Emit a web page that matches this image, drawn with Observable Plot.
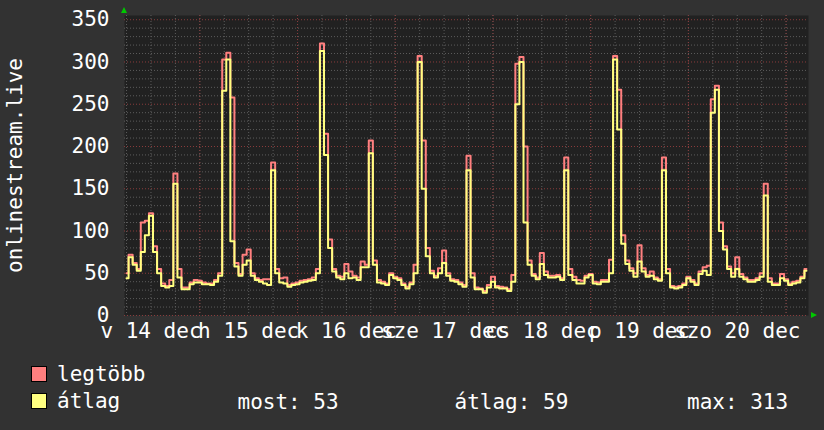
<!DOCTYPE html>
<html>
<head>
<meta charset="utf-8">
<script src="https://cdn.jsdelivr.net/npm/d3@7"></script>
<script src="https://cdn.jsdelivr.net/npm/@observablehq/plot@0.6"></script>
<style>
  html, body { margin: 0; padding: 0; background: #323232; }
  #wrap { position: relative; width: 824px; height: 430px; overflow: hidden; }
  #legend { position: absolute; left: 0; top: 350px; }
</style>
</head>
<body>
<div id="wrap"></div>
<script>
// ---- data (hourly samples, starting 14 Dec 05:30) ----
const seriesNames = ["legtöbb", "átlag"];
const seriesColors = ["#ff7f7f", "#ffff80"];
const maxValues = [
  50, 72, 62, 55, 110, 112, 121, 82, 55, 38, 35, 42, 168, 55, 33, 33, 39, 42, 41, 39, 38, 38, 42, 50,
  303, 311, 258, 62, 49, 72, 78, 50, 44, 42, 43, 43, 181, 55, 44, 45, 36, 38, 39, 41, 42, 43, 45, 55,
  322, 215, 90, 55, 47, 46, 61, 52, 47, 45, 64, 60, 207, 65, 42, 40, 38, 50, 46, 44, 38, 34, 39, 60,
  307, 207, 80, 53, 47, 56, 77, 50, 43, 42, 39, 36, 189, 50, 33, 32, 29, 36, 46, 35, 34, 33, 31, 48,
  298, 306, 200, 65, 49, 45, 74, 52, 47, 47, 48, 44, 187, 55, 46, 42, 41, 47, 49, 40, 39, 42, 42, 66,
  307, 267, 95, 65, 56, 50, 83, 56, 48, 52, 45, 43, 187, 55, 35, 34, 35, 38, 46, 42, 38, 52, 57, 59,
  256, 272, 110, 82, 58, 50, 69, 49, 45, 42, 42, 44, 50, 156, 44, 38, 38, 49, 43, 38, 40, 41, 46, 55
];
const avgValues = [
  44, 69, 60, 53, 75, 95, 118, 75, 50, 35, 33, 35, 156, 45, 31, 31, 37, 39, 39, 37, 37, 36, 40, 47,
  266, 303, 88, 58, 47, 60, 65, 47, 42, 40, 38, 36, 172, 50, 39, 38, 34, 36, 37, 39, 40, 41, 42, 50,
  313, 190, 80, 52, 45, 43, 50, 44, 45, 42, 57, 57, 192, 60, 39, 38, 36, 48, 44, 42, 36, 32, 37, 50,
  300, 150, 70, 50, 45, 50, 62, 47, 41, 40, 37, 34, 172, 45, 31, 31, 27, 33, 40, 33, 32, 32, 29, 40,
  250, 300, 110, 60, 47, 43, 61, 48, 45, 45, 46, 42, 172, 48, 42, 38, 38, 45, 48, 38, 37, 40, 40, 50,
  303, 220, 85, 61, 53, 46, 64, 52, 46, 47, 43, 41, 172, 50, 33, 32, 33, 36, 44, 40, 36, 49, 53, 48,
  240, 267, 100, 78, 55, 46, 55, 46, 43, 40, 40, 42, 46, 142, 40, 36, 36, 44, 41, 36, 38, 39, 44, 53
];
const yTicks = [0, 50, 100, 150, 200, 250, 300, 350];
const dayNumbers = [14, 15, 16, 17, 18, 19, 20];
const xTickLabels = ["v 14 dec", "h 15 dec", "k 16 dec", "sze 17 dec", "cs 18 dec", "p 19 dec", "szo 20 dec"];
const yLabel = "onlinestream.live";
const statLabels = ["most: 53", "átlag: 59", "max: 313"];

// ---- build ----
const hour = 3600e3;
const start = Date.UTC(2014, 11, 14, 5, 30);
const end = start + 168 * hour;
const data = avgValues.map((a, i) => ({
  time: new Date(start + (i + 0.5) * hour),
  avg: a,
  max: maxValues[i]
}));
const noonTicks = dayNumbers.map(d => new Date(Date.UTC(2014, 11, d, 12)));
const labelOf = new Map(noonTicks.map((d, i) => [+d, xTickLabels[i]]));
const minorX = d3.utcHour.every(6).range(new Date(start), new Date(end));
const majorX = d3.utcDay.range(new Date(start), new Date(end));
const minorY = d3.range(0, 351, 10).filter(v => v % 50 !== 0);

const ML = 124, MR = 16, MT = 15, MB = 35, W = 824, H = 350;
const font = "'DejaVu Sans Mono', monospace";

const plot = Plot.plot({
  width: W, height: H,
  marginLeft: ML, marginRight: MR, marginTop: MT, marginBottom: MB,
  style: {background: "transparent", color: "#ffffff", fontFamily: font, fontSize: "21px"},
  x: {type: "utc", domain: [new Date(start), new Date(end)]},
  y: {domain: [0, 355]},
  marks: [
    Plot.frame({fill: "#212121", stroke: null}),
    Plot.ruleX(minorX, {stroke: "#5c5c5c", strokeDasharray: "1,2", strokeWidth: 1}),
    Plot.ruleY(minorY, {stroke: "#5c5c5c", strokeDasharray: "1,2", strokeWidth: 1}),
    Plot.ruleX(majorX, {stroke: "#8a3c3c", strokeDasharray: "1,2", strokeWidth: 1}),
    Plot.ruleY(yTicks, {stroke: "#8a3c3c", strokeDasharray: "1,2", strokeWidth: 1}),
    Plot.line(data, {x: "time", y: "max", stroke: seriesColors[0], strokeWidth: 2, curve: "step"}),
    Plot.line(data, {x: "time", y: "avg", stroke: seriesColors[1], strokeWidth: 2, curve: "step"}),
    Plot.axisY({ticks: yTicks, tickSize: 0, tickPadding: 15, fontSize: 21, fill: "#ffffff", label: null}),
    Plot.axisX({ticks: noonTicks, tickSize: 0, tickPadding: 8, fontSize: 21, fill: "#ffffff",
                tickFormat: d => labelOf.get(+d), label: null}),
    Plot.text([yLabel], {frameAnchor: "left", rotate: -90, dx: -109, fill: "#ffffff",
                textAnchor: "middle", lineAnchor: "middle", fontSize: 21, text: d => d})
  ]
});
plot.style.position = "absolute";
plot.style.left = "0px";
plot.style.top = "0px";
document.getElementById("wrap").appendChild(plot);

// axis arrows (green), placed at the scale's edges
const svg = d3.select(plot);
const x0 = ML, yB = H - MB;
svg.append("polygon")
  .attr("points", `${x0 - 3},${13} ${x0 + 3},${13} ${x0},${7}`)
  .attr("fill", "#00c800");
svg.append("polygon")
  .attr("points", `${W - MR + 3},${yB - 3} ${W - MR + 3},${yB + 3} ${W - MR + 9},${yB}`)
  .attr("fill", "#00c800");

// legend (below the chart)
const leg = d3.select("#wrap").append("svg")
  .attr("id", "legend").attr("width", 824).attr("height", 80)
  .style("font-family", font).style("font-size", "21px");
seriesNames.forEach((name, i) => {
  const y0 = 16.5 + i * 27;
  leg.append("rect").attr("x", 31.5).attr("y", y0).attr("width", 15).attr("height", 15)
    .attr("fill", seriesColors[i]).attr("stroke", "#000").attr("stroke-width", 1);
  leg.append("text").attr("x", 57).attr("y", y0 + 14.5).attr("fill", "#fff").text(name);
});
[237.5, 454.5, 687].forEach((x, i) => {
  leg.append("text").attr("x", x).attr("y", 58.5).attr("fill", "#fff").text(statLabels[i]);
});
</script>
</body>
</html>
